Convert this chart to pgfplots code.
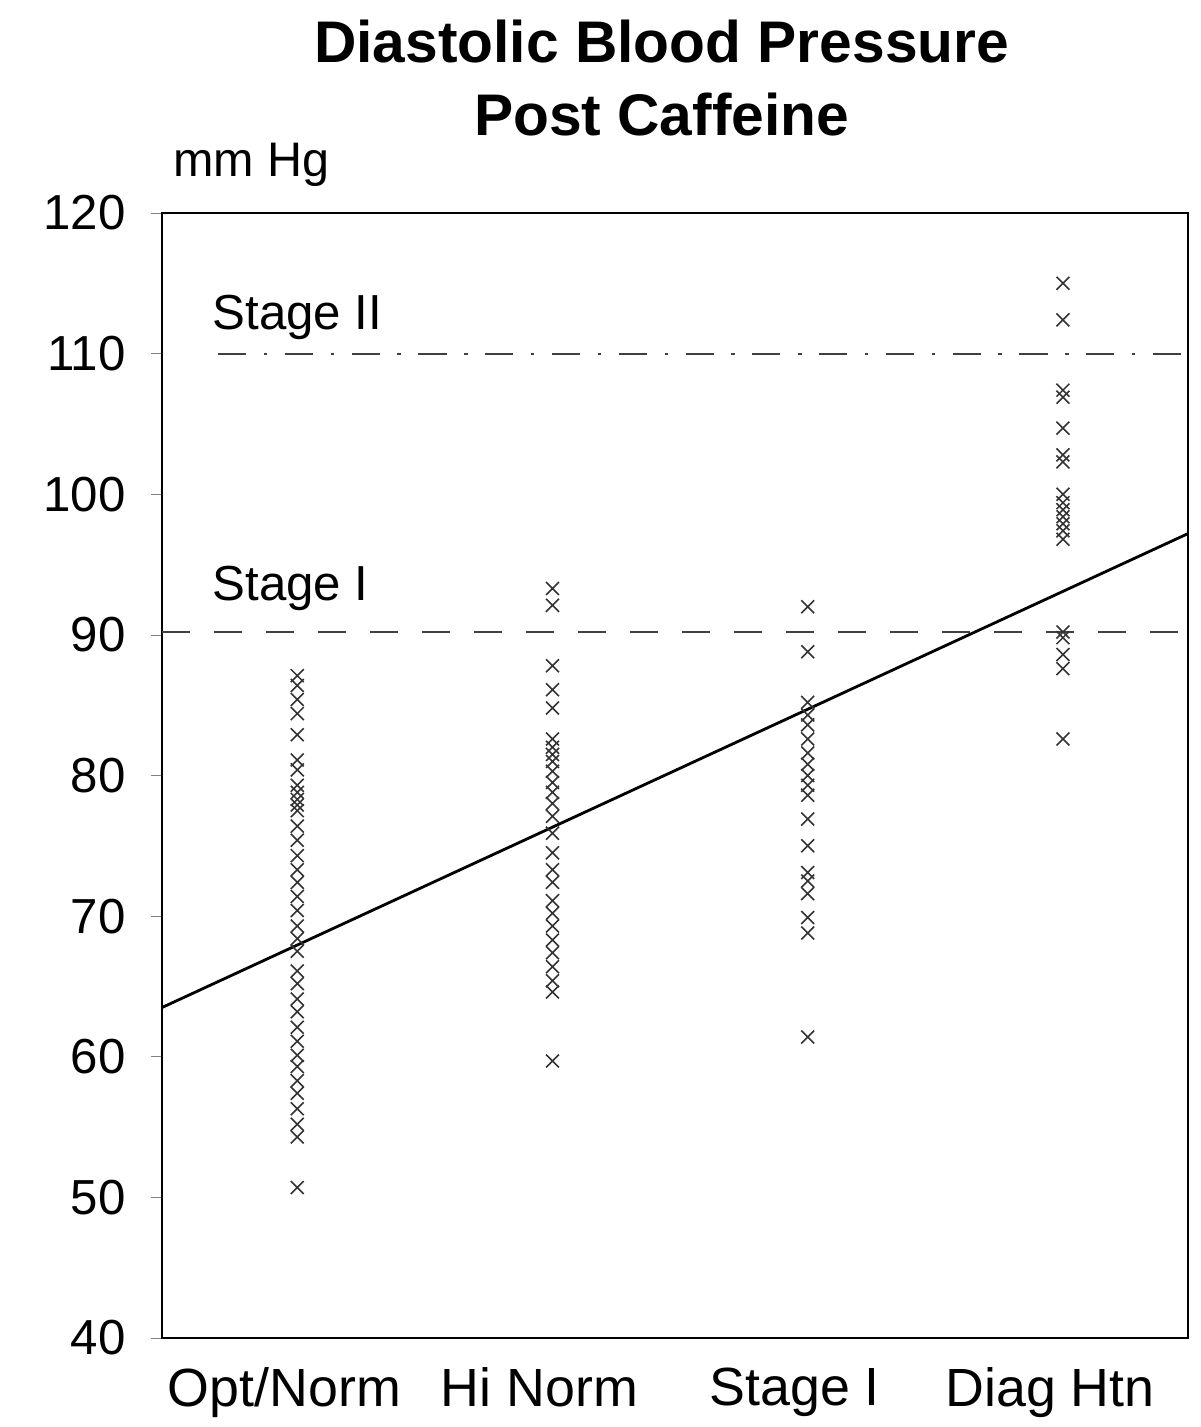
\documentclass[border=0pt]{standalone}
\usepackage{pgfplots}
\pgfplotsset{compat=1.18}
\usepackage{fontspec}
\setmainfont{Liberation Sans}

\begin{document}
\begin{tikzpicture}
  % page = 1200 x 1427 px at 0.1 mm per px, axis box SW corner at (0,0)
  \useasboundingbox (-1.62cm,-0.89cm) rectangle (10.38cm,13.38cm);
  \begin{axis}[
      scale only axis,
      width=10.26cm, height=11.25cm,
      xmin=0.47, xmax=4.49, ymin=40, ymax=120,
      xtick={1,2,3,4},
      xticklabels={Opt/Norm, Hi Norm, Stage I, Diag Htn},
      major x tick style={draw=none},
      ytick={40,50,...,120},
      ytick pos=left, tick align=outside, major tick length=3pt,
      /pgf/number format/assume math mode=true,
      yticklabel style={font=\fontsize{14}{16}\selectfont, xshift=-3.8pt},
      xticklabel style={font=\fontsize{15.3}{17}\selectfont, xshift=-1.3mm, yshift=-2pt},
      axis line style={black, line width=0.6pt},
      clip=false,
    ]
    % reference levels
    \addplot[black!75, line width=0.6pt, dash pattern=on 8pt off 5pt on 1pt off 5pt]
      coordinates {(0.69,110) (4.49,110)};
    \addplot[black!75, line width=0.7pt, dash pattern=on 8pt off 6.8pt]
      coordinates {(0.47,90.2) (4.49,90.2)};
    % regression line
    \addplot[black, line width=0.8pt] coordinates {(0.47,63.5) (4.49,97.2)};

    % individual subjects
    \addplot[only marks, mark=x, mark size=2.6pt, black!80,
             mark options={line width=0.45pt}] coordinates {
      % Opt/Norm
      (1,87.1) (1,86.4) (1,85.4) (1,84.4) (1,82.9) (1,81.1) (1,80.4) (1,79.3)
      (1,78.8) (1,78.3) (1,77.9) (1,77.5) (1,76.4) (1,75.4) (1,74.3) (1,73.3)
      (1,72.4) (1,71.4) (1,70.4) (1,69.3) (1,68.4) (1,67.5) (1,66.1) (1,65.2)
      (1,64.1) (1,63.2) (1,62.1) (1,61.1) (1,60.1) (1,59.3) (1,58.3) (1,57.4)
      (1,56.3) (1,55.2) (1,54.3) (1,50.7)
      % Hi Norm
      (2,93.3) (2,92.1) (2,87.8) (2,86.1) (2,84.8) (2,82.6) (2,82.0) (2,81.5)
      (2,81.0) (2,80.3) (2,79.5) (2,78.8) (2,78.0) (2,77.1) (2,75.9) (2,74.5)
      (2,73.3) (2,72.4) (2,71.1) (2,70.2) (2,69.3) (2,68.3) (2,67.4) (2,66.4)
      (2,65.4) (2,64.6) (2,59.7)
      % Stage I
      (3,92.0) (3,88.8) (3,85.2) (3,84.3) (3,83.6) (3,82.6) (3,81.6) (3,80.8)
      (3,80.0) (3,79.3) (3,78.6) (3,76.9) (3,75.0) (3,73.1) (3,72.5) (3,71.6)
      (3,69.9) (3,68.8) (3,61.4)
      % Diag Htn
      (4,115.0) (4,112.4) (4,107.4) (4,106.9) (4,104.7) (4,102.8) (4,102.3)
      (4,100.0) (4,99.4) (4,98.9) (4,98.4) (4,97.9) (4,97.4) (4,96.8)
      (4,90.2) (4,89.8) (4,88.6) (4,87.6) (4,82.6)
    };

    % annotations
    \node[anchor=west, font=\fontsize{14}{16}\selectfont] at (axis cs:0.62,112.6) {Stage II};
    \node[anchor=west, font=\fontsize{14}{16}\selectfont] at (axis cs:0.62,93.3) {Stage I};
    \node[font=\fontsize{13.8}{16}\selectfont] at (rel axis cs:0.087,1.043) {mm Hg};
    \node[align=center, font=\bfseries\fontsize{16.7}{21}\selectfont]
      at (rel axis cs:0.487,1.120) {Diastolic Blood Pressure\\Post Caffeine};
  \end{axis}
\end{tikzpicture}
\end{document}
